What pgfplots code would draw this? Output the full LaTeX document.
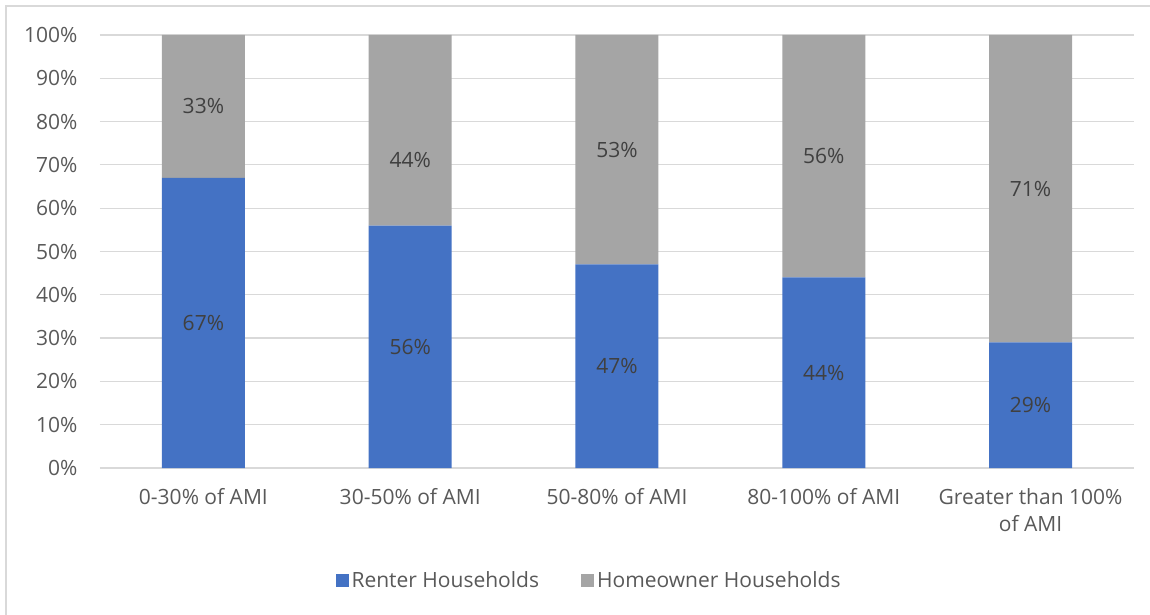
\documentclass[border=0pt]{standalone}
\usepackage{pgfplots}
\pgfplotsset{compat=1.18}
\usepackage{pgfplotstable}
\usepackage{fontspec}
\setmainfont{Open Sans}

\definecolor{renter}{HTML}{4472C4}
\definecolor{owner}{HTML}{A5A5A5}
\definecolor{gridc}{HTML}{D9D9D9}
\definecolor{tickc}{HTML}{595959}
\definecolor{labc}{HTML}{404040}

% x = category index, h = share, dy = extra label offset (pt)
\pgfplotstableread{
x h dy
0 67 0
1 56 0
2 47 0
3 44 0
4 29 0
}\renterdata
\pgfplotstableread{
x h dy
0 33 0
1 44 30
2 53 0
3 56 0
4 71 0
}\ownerdata

\begin{document}
\begin{tikzpicture}
\begin{axis}[
  at={(0,0)}, anchor=south west,
  scale only axis,
  width=1034pt, height=433pt,
  ybar stacked, bar width=83pt,
  xmin=-0.5, xmax=4.5, ymin=0, ymax=100,
  xtick={0,1,2,3,4},
  xticklabels={0-30\% of AMI, 30-50\% of AMI, 50-80\% of AMI, 80-100\% of AMI, Greater than 100\%\\of AMI},
  ytick={0,10,...,100},
  yticklabel={\pgfmathprintnumber{\tick}\%},
  /pgf/number format/assume math mode=true,
  major tick length=0pt,
  axis line style={draw=none},
  ymajorgrids, grid style={gridc, line width=1.2pt},
  tick label style={font=\fontsize{21}{27}\selectfont, text=tickc},
  xticklabel style={align=center, yshift=-17pt},
  yticklabel style={xshift=-19pt},
  point meta=\thisrow{h},
  nodes near coords={\pgfmathprintnumber{\pgfplotspointmeta}\%},
  visualization depends on={\thisrow{dy} \as \dd},
  every node near coord/.append style={font=\fontsize{21}{27}\selectfont, text=labc,
    anchor=center, yshift={-\dd*1pt}},
  legend columns=2,
  legend style={at={(0.473,-0.2587)}, anchor=center, draw=none,
    font=\fontsize{21}{27}\selectfont, text=tickc,
    /tikz/every odd column/.append style={column sep=1pt},
    /tikz/every even column/.append style={column sep=40pt}},
  legend image code/.code={\fill[#1,draw=none] (0pt,-6.5pt) rectangle (13pt,6.5pt);},
]
\addplot[fill=renter, draw=none] table[x=x, y=h] {\renterdata};
\addplot[fill=owner, draw=none] table[x=x, y=h] {\ownerdata};
\legend{Renter Households, Homeowner Households}
\end{axis}
\draw[gridc, line width=1.5pt] (-94pt,-147pt) -- (-94pt,462pt) -- (1050pt,462pt);
\pgfresetboundingbox
\path (-100pt,-147pt) rectangle (1050pt,468pt);
\end{tikzpicture}
\end{document}
